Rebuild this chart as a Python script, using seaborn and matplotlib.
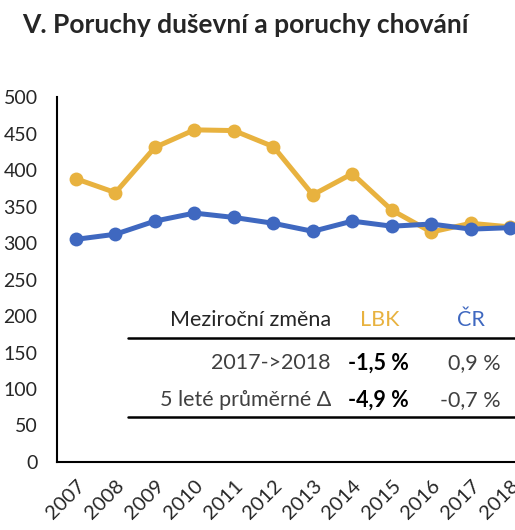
import pandas as pd
import numpy as np
import seaborn as sns
import matplotlib.pyplot as plt
from matplotlib.lines import Line2D

# data
years = [2007, 2008, 2009, 2010, 2011, 2012, 2013, 2014, 2015, 2016, 2017, 2018]
lbk = [388, 369, 431, 455, 454, 432, 366, 395, 345, 315, 327, 322]
cr = [305, 312, 330, 341, 335, 327, 316, 330, 323, 326, 319, 321]
series_names = ['LBK', 'ČR']
colors = ['#E8B23F', '#3F68C0']

row_labels = ['2017->2018', '5 leté průměrné Δ']
lbk_change = ['-1,5 %', '-4,9 %']
cr_change = ['0,9 %', '-0,7 %']

df = pd.DataFrame({
    'rok': years * 2,
    'hodnota': lbk + cr,
    'rada': ['LBK'] * len(years) + ['ČR'] * len(years),
})

sns.set_style('white')
plt.rcParams['font.family'] = ['Lato', 'DejaVu Sans']

W, H = 515, 530
fig = plt.figure(figsize=(W / 100, H / 100), dpi=100)


def fx(px):
    return px / W


def fy(py):
    return 1 - py / H


ax = fig.add_axes([fx(57), fy(462), (530 - 57) / W, (462 - 97) / H])
sns.lineplot(data=df, x='rok', y='hodnota', hue='rada', hue_order=series_names,
             palette=colors, marker='o', markersize=10, markeredgewidth=0,
             linewidth=3.6, ax=ax, legend=False, clip_on=False)

ax.set_xlim(2006.52, 2018.5)
ax.set_ylim(0, 500)
ax.set_yticks(range(0, 501, 50))
ax.set_xticks(years)
ax.set_xticklabels([str(y) for y in years], rotation=45, ha='right',
                   va='top', rotation_mode='anchor')
ax.tick_params(axis='y', length=0, pad=14, labelsize=14)
ax.tick_params(axis='x', length=0, pad=11, labelsize=14.5)
ax.set_xlabel('')
ax.set_ylabel('')
for s in ['top', 'right']:
    ax.spines[s].set_visible(False)
for s in ['left', 'bottom']:
    ax.spines[s].set_color('black')
    ax.spines[s].set_linewidth(1.5)

fig.text(fx(22), fy(25), 'V. Poruchy duševní a poruchy chování',
         fontsize=19, fontweight='bold', ha='left', va='center')

# small summary table
fs = 15.5
fig.text(fx(331), fy(320), 'Meziroční změna', fontsize=fs, ha='right', va='center')
fig.text(fx(380), fy(320), series_names[0], fontsize=fs, ha='center', va='center', color=colors[0])
fig.text(fx(471), fy(320), series_names[1], fontsize=fs, ha='center', va='center', color=colors[1])
fig.add_artist(Line2D([fx(128), fx(515)], [fy(338), fy(338)], color='black', lw=1.8))

row_y = [363, 400]
for i in range(2):
    fig.text(fx(331), fy(row_y[i]), row_labels[i], fontsize=fs, ha='right', va='center', color='#404040')
    fig.text(fx(378), fy(row_y[i]), lbk_change[i], fontsize=fs, ha='center', va='center',
             fontweight='bold', color='black')
    fig.text(fx(501), fy(row_y[i]), cr_change[i], fontsize=fs, ha='right', va='center', color='#404040')
fig.add_artist(Line2D([fx(128), fx(515)], [fy(417), fy(417)], color='black', lw=1.8))

fig.savefig('out.png', dpi=100)
